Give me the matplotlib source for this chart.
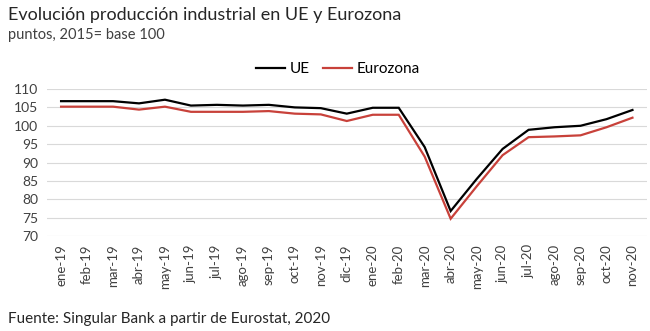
import matplotlib
matplotlib.use("Agg")
import matplotlib.pyplot as plt

months = ["ene-19", "feb-19", "mar-19", "abr-19", "may-19", "jun-19", "jul-19", "ago-19",
          "sep-19", "oct-19", "nov-19", "dic-19", "ene-20", "feb-20", "mar-20", "abr-20",
          "may-20", "jun-20", "jul-20", "ago-20", "sep-20", "oct-20", "nov-20"]
ue = [106.7, 106.7, 106.7, 106.1, 107.1, 105.5, 105.7, 105.5, 105.7, 105.0, 104.8, 103.3,
      104.9, 104.9, 94.2, 76.8, 85.5, 93.7, 98.9, 99.6, 100.0, 101.8, 104.3]
eurozona = [105.2, 105.2, 105.2, 104.4, 105.2, 103.8, 103.8, 103.8, 104.0, 103.3, 103.1, 101.3,
            103.0, 103.0, 91.6, 74.7, 83.5, 92.0, 96.9, 97.1, 97.4, 99.6, 102.2]
yticks = [70, 75, 80, 85, 90, 95, 100, 105, 110]

plt.rcParams['font.family'] = ['Lato', 'DejaVu Sans']

fig = plt.figure(figsize=(6.5, 3.31), dpi=100)
ax = fig.add_axes([0.072, 0.287, 0.923, 0.444])

x = list(range(len(months)))
ax.plot(x, ue, color="#000000", lw=1.6, label="UE", solid_joinstyle="miter")
ax.plot(x, eurozona, color="#c8413a", lw=1.6, label="Eurozona", solid_joinstyle="miter")

ax.set_ylim(70, 110)
ax.set_xlim(-0.55, len(months) - 0.45)
ax.set_yticks(yticks)
ax.set_yticklabels([str(v) for v in yticks], fontsize=10, color="#404040")
ax.set_xticks(x)
ax.set_xticklabels(months, rotation=90, fontsize=9.5, color="#404040")
ax.tick_params(axis="both", length=0, pad=6)
ax.grid(axis="y", color="#d9d9d9", lw=0.8)
ax.set_axisbelow(True)
for s in ax.spines.values():
    s.set_visible(False)

fig.legend(loc="center", bbox_to_anchor=(0.52, 0.792), ncol=2, frameon=False,
           fontsize=11, handlelength=1.9, columnspacing=0.9, handletextpad=0.3)

fig.text(0.012, 0.955, "Evolución producción industrial en UE y Eurozona", fontsize=13,
         color="#262626", va="center", ha="left")
fig.text(0.012, 0.895, "puntos, 2015= base 100", fontsize=10.5, color="#404040",
         va="center", ha="left")
fig.text(0.012, 0.035, "Fuente: Singular Bank a partir de Eurostat, 2020", fontsize=11,
         color="#262626", va="center", ha="left")

fig.savefig("out.png", dpi=100)
